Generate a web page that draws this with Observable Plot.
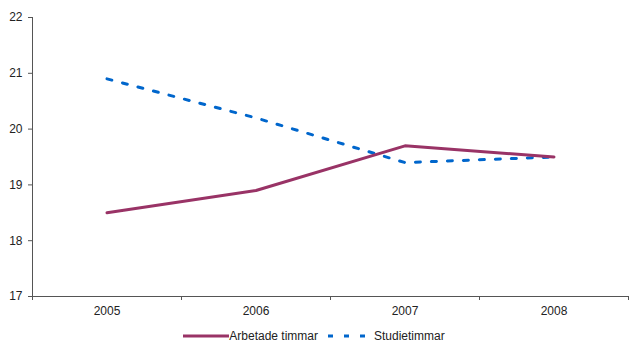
<!DOCTYPE html>
<html><head><meta charset="utf-8">
<script src="https://cdn.jsdelivr.net/npm/d3@7"></script>
<script src="https://cdn.jsdelivr.net/npm/@observablehq/plot@0.6"></script>
<style>
body{margin:0;background:#fff;font-family:"Liberation Sans",Arial,sans-serif;}
#legend{display:flex;justify-content:center;align-items:center;font-size:12px;color:#222;height:24px;padding-right:8px;}
#legend .item{display:flex;align-items:center;}
</style>
</head><body>
<div id="chart"></div>
<div id="legend"></div>
<script>
const years = [2005, 2006, 2007, 2008];
const arbetade = [18.5, 18.9, 19.7, 19.5];
const studie = [20.9, 20.2, 19.4, 19.5];
const yTicks = [17, 18, 19, 20, 21, 22];
const seriesNames = ["Arbetade timmar", "Studietimmar"];
const seriesColors = ["#993366", "#0066CC"];

const data = [];
years.forEach((y, i) => data.push({year: y, value: arbetade[i], series: seriesNames[0]}));
years.forEach((y, i) => data.push({year: y, value: studie[i], series: seriesNames[1]}));
const bounds = years.map(y => y - 0.5).concat([years[years.length - 1] + 0.5]);

const chart = Plot.plot({
  width: 640, height: 324,
  marginTop: 17, marginBottom: 28, marginLeft: 32, marginRight: 12,
  style: {fontFamily: "Liberation Sans, Arial, sans-serif", fontSize: "12px", color: "#222"},
  x: {domain: [bounds[0], bounds[bounds.length - 1]]},
  y: {domain: [17, 22]},
  marks: [
    Plot.axisY({ticks: yTicks, tickSize: 4, tickPadding: 6, label: null, tickFormat: d => d, stroke: "#555", fontSize: 12}),
    Plot.axisX({ticks: bounds, tickSize: 4, tickFormat: () => "", label: null, stroke: "#555"}),
    Plot.axisX({ticks: years, tickSize: 0, tickPadding: 10, tickFormat: d => String(d), label: null, fontSize: 12}),
    Plot.ruleX([bounds[0]], {stroke: "#555"}),
    Plot.ruleY([17], {stroke: "#555"}),
    Plot.line(data.filter(d => d.series === seriesNames[1]), {x: "year", y: "value", stroke: seriesColors[1], strokeWidth: 3, strokeDasharray: "5,11"}),
    Plot.line(data.filter(d => d.series === seriesNames[0]), {x: "year", y: "value", stroke: seriesColors[0], strokeWidth: 3})
  ]
});
document.getElementById("chart").appendChild(chart);

const legend = document.getElementById("legend");
seriesNames.forEach((name, i) => {
  const item = document.createElement("div");
  item.className = "item";
  const dash = i === 1 ? 'stroke-dasharray="5,11"' : "";
  item.innerHTML = `<svg width="48" height="10"><line x1="${i===1?4:2}" y1="5" x2="48" y2="5" stroke="${seriesColors[i]}" stroke-width="3" ${dash}/></svg><span style="margin-left:${i===1?2:0}px;margin-right:6px">${name}</span>`;
  legend.appendChild(item);
});
</script>
</body></html>
